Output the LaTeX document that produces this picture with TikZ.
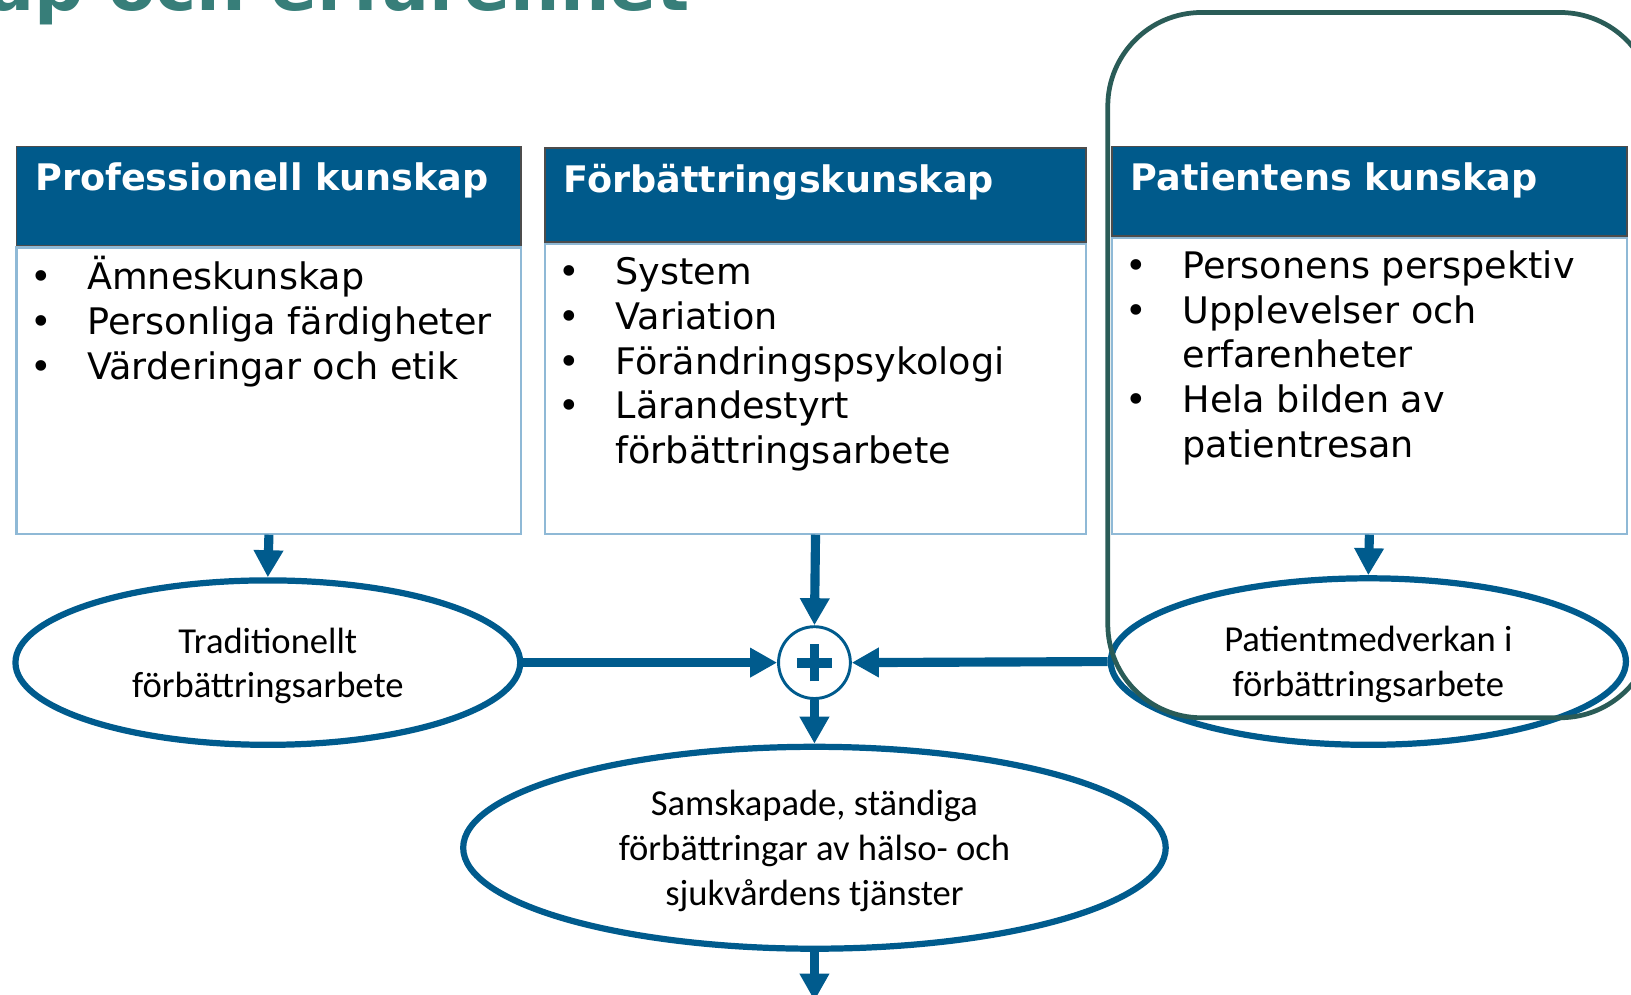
\documentclass[tikz,border=0pt]{standalone}
\usepackage{fontspec}
\setmainfont{DejaVu Sans}
\newfontfamily\calibri{Carlito}
\usetikzlibrary{positioning, shapes.geometric, arrows.meta}

\definecolor{rubrikblaa}{HTML}{005A8B}
\definecolor{pilblaa}{HTML}{005B8D}
\definecolor{ramblaa}{HTML}{8FB9D6}
\definecolor{markgron}{HTML}{2A5C57}
\definecolor{titelgron}{HTML}{377E79}

\newcommand{\punkt}[1]{\par\hangindent=0.55cm\hangafter=1\noindent\strut\makebox[0.55cm][l]{•}#1}
\newcommand{\radbryt}{\hfil\break\strut}
\newcommand{\lista}[3]{\parbox[t][#1][t]{#2}{\raggedright\vspace*{0.085cm}#3}}

\tikzset{
	rubrik/.style={rectangle, draw=black!70, line width=0.5pt, fill=rubrikblaa,
		text=white, font=\bfseries\fontsize{10}{12}\selectfont,
		anchor=north west, inner xsep=0.18cm, inner ysep=0pt, align=left},
	innehall/.style={rectangle, draw=ramblaa, line width=0.6pt, fill=white,
		inner xsep=0.13cm, inner ysep=0pt, font=\fontsize{10}{12.24}\selectfont},
	oval/.style={ellipse, draw=pilblaa, line width=1.7pt, inner sep=0pt, text depth=-0.02cm,
		align=center, font=\calibri\fontsize{10}{12.2}\selectfont},
	pil/.style={draw=pilblaa, line width=2.5pt, -{Triangle[length=0.26cm, width=0.27cm]}}
}

\begin{document}
\begin{tikzpicture}[x=0.01cm, y=-0.01cm]
	\useasboundingbox (0,0) rectangle (1568,956);
	\clip (0,0) rectangle (1568,956);

	\node[anchor=base east, text=titelgron, inner sep=0pt,
	font=\bfseries\fontsize{19}{22}\selectfont] (titel) at (664,10) {Kunskap och erfarenhet};

	\node[rubrik, text width=4.49cm, text height=0.42cm, text depth=0.53cm]
	(r1) at (15,140) {Professionell kunskap};
	\node[innehall, below=0pt of r1] (k1)
	{\lista{2.75cm}{4.59cm}{\punkt{Ämneskunskap}\punkt{Personliga färdigheter}\punkt{Värderingar och etik}}};

	\node[rubrik, text width=4.84cm, text height=0.43cm, text depth=0.48cm]
	(r2) at (523,141) {Förbättringskunskap};
	\node[innehall, below=0pt of r2] (k2)
	{\lista{2.78cm}{4.94cm}{\punkt{System}\punkt{Variation}\punkt{Förändringspsykologi}\punkt{Lärandestyrt\radbryt förbättringsarbete}}};

	\node[rubrik, text width=4.59cm, text height=0.42cm, text depth=0.44cm]
	(r3) at (1068,140) {Patientens kunskap};
	\node[innehall, below=0pt of r3] (k3)
	{\lista{2.84cm}{4.69cm}{\punkt{Personens perspektiv}\punkt{Upplevelser och\radbryt erfarenheter}\punkt{Hela bilden av\radbryt patientresan}}};

	\node[oval, minimum width=4.85cm, minimum height=1.58cm] (e1) at (257.5,637)
	{Traditionellt\\förbättringsarbete};
	\node[oval, minimum width=4.95cm, minimum height=1.6cm] (e3) at (1315.5,636)
	{Patientmedverkan i\\förbättringsarbete};
	\node[oval, minimum width=6.75cm, minimum height=1.94cm] (e4) at (783,815)
	{Samskapade, ständiga\\förbättringar av hälso- och\\sjukvårdens tjänster};

	\node[circle, draw=pilblaa, line width=0.8pt, minimum size=0.69cm, inner sep=0pt] (plus) at (783,637) {};
	\draw[pilblaa, line width=2.7pt] ([xshift=-0.17cm]plus.center) -- ([xshift=0.17cm]plus.center);
	\draw[pilblaa, line width=2.7pt] ([yshift=-0.18cm]plus.center) -- ([yshift=0.18cm]plus.center);

	\coordinate (ut) at (783,962);

	\draw[pil] (k1.south) -- (e1.north);
	\draw[pil] (k2.south) -- (plus.north);
	\draw[pil] (k3.south) -- (e3.north);
	\draw[pil] (e1.east) -- (plus.west);
	\draw[pil] (e3.west) -- (plus.east);
	\draw[pil] (plus.south) -- (e4.north);
	\draw[pil] (e4.south) -- (ut);

	\draw[markgron, line width=1.3pt, rounded corners=0.9cm] (1065,12) rectangle (1590,690);
\end{tikzpicture}
\end{document}
